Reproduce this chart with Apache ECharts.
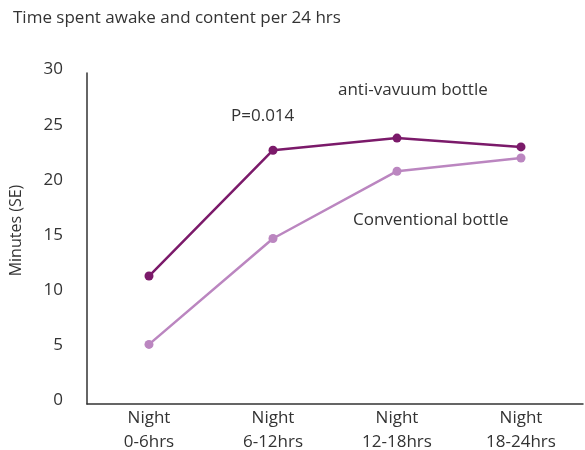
<!DOCTYPE html>
<html><head><meta charset="utf-8">
<script src="https://cdn.jsdelivr.net/npm/echarts@6/dist/echarts.min.js"></script>
<style>html,body{margin:0;padding:0;background:#fff}#c{width:585px;height:450px}</style>
</head><body><div id="c"></div>
<script>
const categories = ['Night\n0-6hrs', 'Night\n6-12hrs', 'Night\n12-18hrs', 'Night\n18-24hrs'];
const antiVacuum = [11.6, 23.0, 24.1, 23.3];
const conventional = [5.4, 15.0, 21.1, 22.3];
const yTicks = [0, 5, 10, 15, 20, 25, 30];

const FONT = 'Open Sans';
const chart = echarts.init(document.getElementById('c'));
chart.setOption({
  backgroundColor: '#fff',
  animation: false,
  title: {
    text: 'Time spent awake and content per 24 hrs',
    left: 8, top: 5,
    textStyle: {fontFamily: FONT, fontSize: 17, fontWeight: 'normal', color: '#333'}
  },
  grid: {left: 87, right: 2, top: 73, bottom: 46, outerBoundsMode: 'none', containLabel: false},
  xAxis: {
    type: 'category',
    data: categories,
    boundaryGap: true,
    axisLine: {lineStyle: {color: '#333', width: 1.5}},
    axisTick: {show: false},
    axisLabel: {fontFamily: FONT, fontSize: 17, color: '#333', lineHeight: 24, margin: 2}
  },
  yAxis: {
    type: 'value',
    min: yTicks[0], max: yTicks[yTicks.length - 1], interval: 5,
    name: 'Minutes (SE)',
    nameLocation: 'middle',
    nameGap: 63,
    nameTextStyle: {fontFamily: FONT, fontSize: 16, color: '#333', padding: [0, 0, 0, 16]},
    axisLine: {show: true, lineStyle: {color: '#333', width: 1.5}},
    axisTick: {show: false},
    splitLine: {show: false},
    axisLabel: {fontFamily: FONT, fontSize: 17, color: '#333', margin: 24, verticalAlign: 'bottom', lineHeight: 7}
  },
  series: [
    {
      name: 'Conventional bottle', type: 'line', data: conventional,
      symbol: 'circle', symbolSize: 9,
      lineStyle: {color: '#bb86c0', width: 2.5},
      itemStyle: {color: '#bb86c0'}
    },
    {
      name: 'anti-vavuum bottle', type: 'line', data: antiVacuum,
      symbol: 'circle', symbolSize: 9,
      lineStyle: {color: '#7b1a6a', width: 2.5},
      itemStyle: {color: '#7b1a6a'}
    }
  ],
  graphic: [
    {type: 'text', left: 338, top: 82, style: {text: 'anti-vavuum bottle', fontFamily: FONT, fontSize: 17, fill: '#333'}},
    {type: 'text', left: 231, top: 108, style: {text: 'P=0.014', fontFamily: FONT, fontSize: 17, fill: '#333'}},
    {type: 'text', left: 353, top: 212, style: {text: 'Conventional bottle', fontFamily: FONT, fontSize: 17, fill: '#333'}}
  ]
});
</script></body></html>
